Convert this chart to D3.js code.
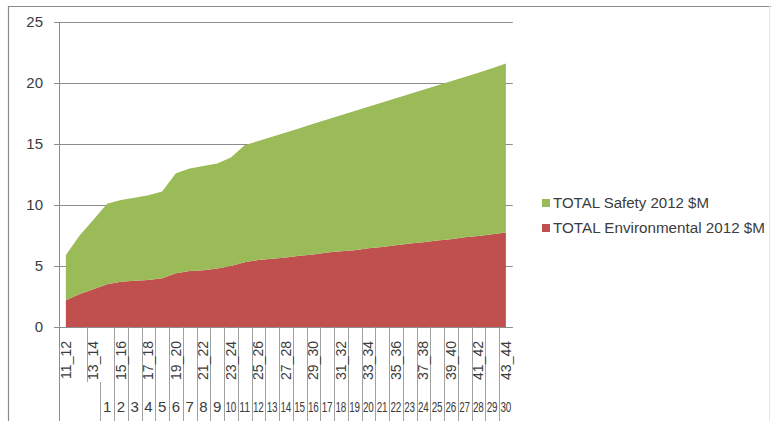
<!DOCTYPE html>
<html>
<head>
<meta charset="utf-8">
<script src="https://cdn.jsdelivr.net/npm/d3@7"></script>
<style>
  html, body { margin: 0; padding: 0; background: #fff; }
  svg { display: block; }
</style>
</head>
<body>
<svg id="chart" width="771" height="421"></svg>
<script>
// ---- data ----
const categories = ["11_12","12_13","13_14","14_15","15_16","16_17","17_18","18_19","19_20","20_21",
  "21_22","22_23","23_24","24_25","25_26","26_27","27_28","28_29","29_30","30_31",
  "31_32","32_33","33_34","34_35","35_36","36_37","37_38","38_39","39_40","40_41",
  "41_42","42_43","43_44"];
const outerLabels = ["","","","1","2","3","4","5","6","7","8","9","10","11","12","13","14","15",
  "16","17","18","19","20","21","22","23","24","25","26","27","28","29","30"];
const environmental = [2.2,2.7,3.1,3.5,3.7,3.8,3.85,4.0,4.4,4.6,4.65,4.8,5.0,5.3,5.5,5.6,5.7,5.85,
  5.95,6.1,6.2,6.3,6.45,6.55,6.7,6.85,6.95,7.1,7.2,7.35,7.45,7.6,7.75];
const safety = [3.7,4.8,5.7,6.6,6.7,6.8,6.95,7.1,8.2,8.4,8.55,8.6,8.9,9.6,9.75,10.0,10.25,10.45,
  10.7,10.9,11.15,11.4,11.6,11.85,12.05,12.25,12.5,12.7,12.95,13.15,13.4,13.6,13.85];
const yTicks = [0,5,10,15,20,25];
const seriesNames = ["TOTAL  Safety 2012 $M", "TOTAL  Environmental 2012 $M"];
const seriesColors = ["#9bbb59", "#c0504d"];

(function () {
// ---- layout ----
const svg = d3.select("#chart");
const pLeft = 59, pRight = 512.75, pTop = 22, pBottom = 327, labelBottom = 421;
const x = d3.scaleBand().domain(categories).range([pLeft, pRight]).padding(0);
const bw = x.bandwidth();
const cx = c => x(c) + bw / 2;
const y = d3.scaleLinear().domain([0, 25]).range([pBottom, pTop]);

// outer frame
svg.append("line").attr("x1", 8).attr("x2", 771).attr("y1", 6.5).attr("y2", 6.5)
  .attr("stroke", "#8a8a8a").attr("stroke-width", 1.2);
svg.append("line").attr("x1", 8.5).attr("x2", 8.5).attr("y1", 6).attr("y2", 421)
  .attr("stroke", "#8a8a8a").attr("stroke-width", 1.2);
svg.append("line").attr("x1", 769.5).attr("x2", 769.5).attr("y1", 6).attr("y2", 421)
  .attr("stroke", "#e4e4e4").attr("stroke-width", 1);

// gridlines
const yAxis = d3.axisLeft(y).tickValues(yTicks).tickSize(-(pRight - pLeft)).tickFormat("");
const gGrid = svg.append("g").attr("transform", `translate(${pLeft},0)`).call(yAxis);
gGrid.select(".domain").remove();
gGrid.selectAll(".tick line").attr("stroke", "#8c8c8c").attr("stroke-width", 1)
  .attr("x1", -5).attr("x2", pRight - pLeft);

// y labels
svg.append("g").selectAll("text").data(yTicks).join("text")
  .attr("x", 43).attr("y", d => y(d)).attr("dy", "0.36em")
  .attr("text-anchor", "end")
  .attr("font-family", "Liberation Sans, Arial, sans-serif").attr("font-size", 15)
  .attr("fill", "#3c3c3c").text(d => d);

// stacked areas
const rows = categories.map((c, i) => ({ cat: c, env: environmental[i], safety: safety[i] }));
const stacked = d3.stack().keys(["env", "safety"])(rows);
const area = d3.area().x(d => cx(d.data.cat)).y0(d => y(d[0])).y1(d => y(d[1]));
const colorFor = { env: seriesColors[1], safety: seriesColors[0] };
svg.append("g").selectAll("path").data(stacked).join("path")
  .attr("d", area).attr("fill", d => colorFor[d.key]);

// y axis line (extends through label area)
svg.append("line").attr("x1", pLeft + 0.5).attr("x2", pLeft + 0.5).attr("y1", pTop).attr("y2", labelBottom)
  .attr("stroke", "#8c8c8c");
// x axis baseline
svg.append("line").attr("x1", pLeft).attr("x2", pRight).attr("y1", pBottom + 0.5).attr("y2", pBottom + 0.5)
  .attr("stroke", "#8c8c8c");

// category separator lines in label area
const gSep = svg.append("g").attr("stroke", "#a0a0a0").attr("stroke-width", 1);
d3.range(1, categories.length).forEach(k => {
  const bx = Math.round(pLeft + bw * k) + 0.5;
  let y1 = null, y2 = null;
  if (k === 2) { y1 = pBottom; y2 = 382; }
  else if (k === 3) { y1 = 382; y2 = labelBottom; }
  else if (k >= 4) { y1 = pBottom; y2 = labelBottom; }
  if (y1 !== null) gSep.append("line").attr("x1", bx).attr("x2", bx).attr("y1", y1).attr("y2", y2);
});

// inner (rotated) labels, every other category
svg.append("g").selectAll("text")
  .data(categories.filter((c, i) => i % 2 === 0)).join("text")
  .attr("transform", c => `translate(${cx(c) + 5},341) rotate(-90)`)
  .attr("text-anchor", "end")
  .attr("font-family", "Liberation Sans, Arial, sans-serif").attr("font-size", 14)
  .attr("fill", "#3c3c3c").text(c => c);

// outer labels (two-digit ones squeezed into their cell)
const outer = svg.append("g").selectAll("text")
  .data(categories.map((c, i) => ({ c, t: outerLabels[i] })).filter(d => d.t !== "")).join("text")
  .attr("x", d => cx(d.c)).attr("y", 412)
  .attr("text-anchor", "middle")
  .attr("font-family", "Liberation Sans, Arial, sans-serif").attr("font-size", 15)
  .attr("fill", "#3c3c3c").text(d => d.t);
outer.filter(d => d.t.length > 1)
  .attr("font-size", 14)
  .attr("textLength", 11).attr("lengthAdjust", "spacingAndGlyphs");

// legend
const legendY = [208, 233];
const legendW = [156, 212];
const gLeg = svg.append("g");
seriesNames.forEach((name, i) => {
  gLeg.append("rect").attr("x", 542).attr("y", legendY[i] - 9).attr("width", 8).attr("height", 8)
    .attr("fill", seriesColors[i]);
  gLeg.append("text").attr("x", 553).attr("y", legendY[i])
    .attr("font-family", "Liberation Sans, Arial, sans-serif").attr("font-size", 14)
    .attr("textLength", legendW[i]).attr("lengthAdjust", "spacingAndGlyphs")
    .attr("fill", "#3c3c3c").text(name);
});
})();
</script>
</body>
</html>
